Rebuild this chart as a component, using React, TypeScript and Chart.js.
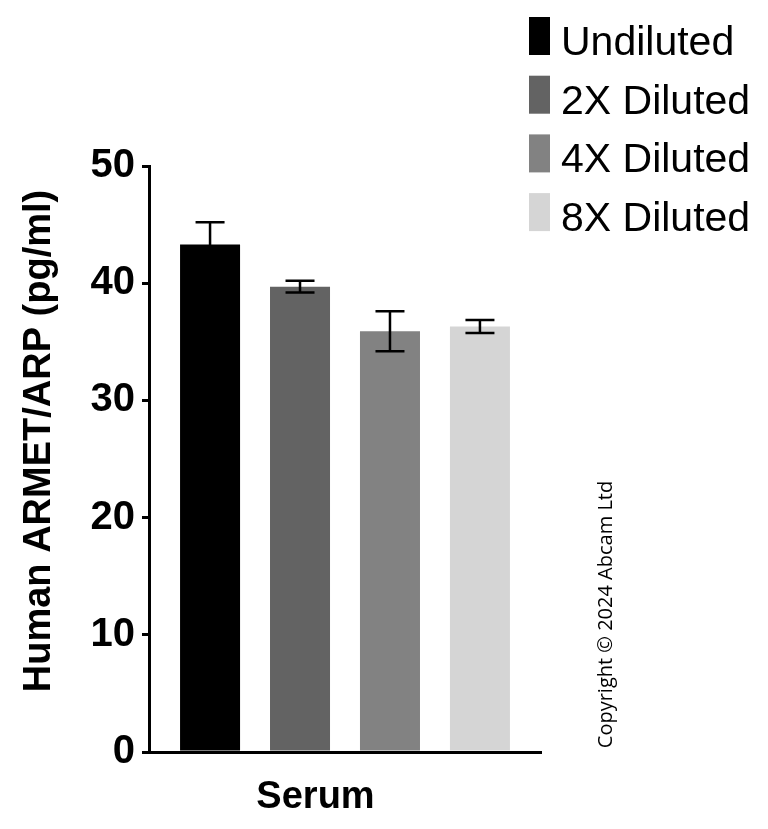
import React, { useEffect, useRef } from 'react';
import { Chart, registerables } from 'chart.js';

Chart.register(...registerables);

const categories = ['Serum'];
const seriesNames = ['Undiluted', '2X Diluted', '4X Diluted', '8X Diluted'];
const seriesMeans = [43.3, 39.7, 35.9, 36.3];
const seriesErrors = [1.9, 0.5, 1.7, 0.55];
const seriesColors = ['#000000', '#636363', '#828282', '#d5d5d5'];
const yMin = 0;
const yMax = 50;
const yStep = 10;
const yTitle = 'Human ARMET/ARP (pg/ml)';
const copyrightText = 'Copyright © 2024 Abcam Ltd';

const FONT = "'Liberation Sans', Arial, sans-serif";

const errorBarPlugin = {
  id: 'errorBars',
  afterDatasetsDraw(chart: any) {
    const ctx = chart.ctx;
    const yScale = chart.scales.y;
    ctx.save();
    ctx.strokeStyle = '#000';
    ctx.lineWidth = 2.5;
    chart.data.datasets.forEach((ds: any, i: number) => {
      const meta = chart.getDatasetMeta(i);
      meta.data.forEach((bar: any, j: number) => {
        const mean = ds.data[j];
        const err = ds.errors[j];
        const x = bar.x;
        const yTop = yScale.getPixelForValue(mean + err);
        const yBot = yScale.getPixelForValue(mean - err);
        const half = 14.5;
        ctx.beginPath();
        ctx.moveTo(x, yTop);
        ctx.lineTo(x, yBot);
        ctx.moveTo(x - half, yTop);
        ctx.lineTo(x + half, yTop);
        ctx.moveTo(x - half, yBot);
        ctx.lineTo(x + half, yBot);
        ctx.stroke();
      });
    });
    ctx.restore();
  },
};

const decorPlugin = {
  id: 'decor',
  afterDraw(chart: any) {
    const ctx = chart.ctx;
    ctx.save();
    // legend
    chart.data.datasets.forEach((ds: any, i: number) => {
      const top = 17 + i * 58.7;
      ctx.fillStyle = ds.backgroundColor;
      ctx.fillRect(529, top, 21, 38);
      ctx.fillStyle = '#000';
      ctx.font = `41px ${FONT}`;
      ctx.textAlign = 'left';
      ctx.textBaseline = 'alphabetic';
      ctx.fillText(ds.label, 561, top + 38);
    });
    // y title
    ctx.save();
    ctx.translate(50, 441);
    ctx.rotate(-Math.PI / 2);
    ctx.font = `bold 38px ${FONT}`;
    ctx.textAlign = 'center';
    ctx.textBaseline = 'alphabetic';
    ctx.fillStyle = '#000';
    ctx.fillText(yTitle, 0, 0);
    ctx.restore();
    // copyright
    ctx.save();
    ctx.translate(612, 614.5);
    ctx.rotate(-Math.PI / 2);
    ctx.font = `20px 'Open Sans', sans-serif`;
    ctx.textAlign = 'center';
    ctx.textBaseline = 'alphabetic';
    ctx.fillStyle = '#000';
    ctx.fillText(copyrightText, 0, 0);
    ctx.restore();
    ctx.restore();
  },
};

export default function App() {
  const canvasRef = useRef<HTMLCanvasElement | null>(null);

  useEffect(() => {
    if (!canvasRef.current) return;
    const chart = new Chart(canvasRef.current, {
      type: 'bar',
      data: {
        labels: categories,
        datasets: seriesNames.map((name, i) => ({
          label: name,
          data: [seriesMeans[i]],
          errors: [seriesErrors[i]],
          backgroundColor: seriesColors[i],
          borderWidth: 0,
          barPercentage: 0.667,
          categoryPercentage: 0.918,
        })) as any,
      },
      options: {
        responsive: false,
        animation: false,
        devicePixelRatio: 1,
        layout: { padding: { top: 166, right: 227, left: 0, bottom: 0 } },
        plugins: {
          legend: { display: false },
          tooltip: { enabled: false },
        },
        scales: {
          x: {
            grid: { display: false },
            border: { display: true, color: '#000', width: 3 },
            ticks: {
              color: '#000',
              font: { family: FONT, size: 38, weight: 'bold' },
              padding: 15,
              labelOffset: -29.5,
            },
            afterFit(scale: any) {
              scale.height = 77;
            },
          },
          y: {
            min: yMin,
            max: yMax,
            ticks: {
              stepSize: yStep,
              color: '#000',
              font: { family: FONT, size: 40, weight: 'bold' },
              padding: 7,
            },
            grid: {
              drawOnChartArea: false,
              drawTicks: true,
              tickLength: 7,
              tickWidth: 3,
              tickColor: '#000',
              color: '#000',
              lineWidth: 3,
            },
            border: { display: true, color: '#000', width: 3 },
            afterFit(scale: any) {
              scale.width = 149;
            },
          },
        },
      } as any,
      plugins: [errorBarPlugin, decorPlugin],
    });
    return () => chart.destroy();
  }, []);

  return (
    <div style={{ position: 'absolute', left: 0, top: 0, width: 768, height: 829, background: '#fff' }}>
      <canvas ref={canvasRef} width={768} height={829} />
    </div>
  );
}
